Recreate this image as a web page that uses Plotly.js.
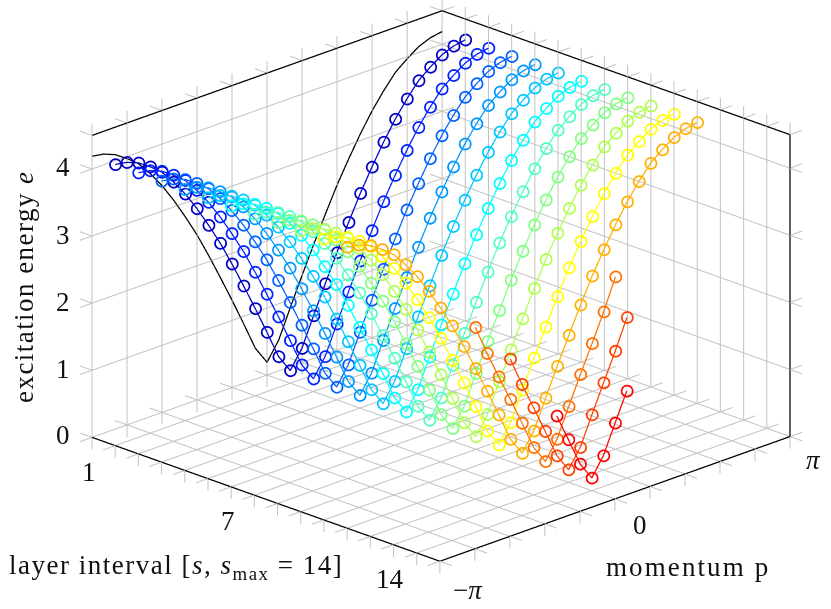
<!DOCTYPE html>
<html><head><meta charset="utf-8">
<script src="https://cdn.plot.ly/plotly-3.0.1.min.js"></script>
<style>html,body{margin:0;padding:0;background:#fff}</style></head>
<body><div id="chart" style="width:831px;height:609px"></div>
<script>
const PI = Math.PI;
// momentum samples: index 0..30 across [-pi, pi]
const momentumSteps = 30;
// excitation energy, layers 1..12 carry the whole band
const fullBand = [4.19,4.16,4.09,3.97,3.83,3.62,3.38,3.10,2.79,2.46,2.09,1.70,1.30,0.885,0.46,0.19,0.46,0.885,1.30,1.70,2.09,2.46,2.79,3.10,3.38,3.62,3.83,3.97,4.09,4.16,4.19];
// truncated bands: first momentum index and values
const band13Start = 9;
const band13 = [2.56,2.11,1.70,1.30,0.885,0.46,0.19,0.46,0.885,1.30,1.70,2.11,2.57];
const band14Start = 10;
const band14 = [2.15,1.71,1.30,0.885,0.46,0.19,0.46,0.885,1.30,1.71,2.15];
const band15Start = 12;
const band15 = [1.30,0.885,0.46,0.19,0.46,0.885,1.30];
const layerColors = ['#0000c8','#0020ff','#0060ff','#0098ff','#00c8ff','#00ffff','#50ffc0','#80ff80','#b0ff50','#ffff00','#ffb000','#ff7000','#ff4000','#ff0000'];
const sTicks = [1,2,3,4,5,6,7,8,9,10,11,12,13,14,15,16];
const pTickSteps = [0,1,2,3,4,5,6,7,8,9,10];
const eTicks = [0,1,2,3,4];
const sMin=1,sMax=16,eMax=4.5;
const tickS=0.52,tickP=0.215,tickE=0.18;
const gridColor='#c2c2c2';

const pOf=i=>-PI+i*2*PI/momentumSteps;
const pTicks=pTickSteps.map(i=>-PI+i*PI/5);

// segment collectors
const gx=[],gy=[],gz=[];
function seg(a,b){gx.push(a[0],b[0],null);gy.push(a[1],b[1],null);gz.push(a[2],b[2],null);}
for(const s of sTicks){
  if(s!==sMax){
    seg([s,-PI,0],[s,PI,0]);
    seg([s,PI,0],[s,PI,eMax]);
  }
  seg([s,PI,eMax],[s,PI,eMax+tickE]);
  seg([s,PI,eMax],[s,PI+tickP,eMax]);
  seg([s,PI,0],[s,PI+tickP,0]);
  seg([s,-PI,0],[s,-PI,-tickE]);
  seg([s,-PI,0],[s,-PI-tickP,0]);
}
pTicks.forEach((p,i)=>{
  if(i>0)seg([sMin,p,0],[sMax,p,0]);
  seg([sMin,p,-tickE],[sMin,p,eMax+tickE]);
  seg([sMin,p,eMax],[sMin-tickS,p,eMax]);
  seg([sMin,p,0],[sMin-tickS,p,0]);
  seg([sMax,p,0],[sMax,p,-tickE]);
  seg([sMax,p,0],[sMax+tickS,p,0]);
});
for(const e of eTicks){
  seg([sMin,-PI-tickP,e],[sMin,PI+tickP,e]);
  seg([sMin-tickS,PI,e],[sMax,PI,e]);
  seg([sMin,-PI,e],[sMin-tickS,-PI,e]);
  seg([sMax,PI,e],[sMax,PI+tickP,e]);
  seg([sMax,PI,e],[sMax+tickS,PI,e]);
}
const traces=[{type:'scatter3d',mode:'lines',x:gx,y:gy,z:gz,connectgaps:false,line:{color:gridColor,width:2},hoverinfo:'skip',showlegend:false}];
// black box edges
traces.push({type:'scatter3d',mode:'lines',connectgaps:false,hoverinfo:'skip',showlegend:false,
  x:[sMin,sMin,null,sMin,sMax,null,sMax,sMax,null,sMin,sMax,null,sMax,sMax],
  y:[-PI,PI,null,PI,PI,null,PI,PI,null,-PI,-PI,null,-PI,PI],
  z:[eMax,eMax,null,eMax,eMax,null,eMax,0,null,0,0,null,0,0],
  line:{color:'#000',width:2.5}});
// layer 1: black line without markers
traces.push({type:'scatter3d',mode:'lines',x:fullBand.map(()=>1),y:fullBand.map((_,i)=>pOf(i)),z:fullBand,line:{color:'#000',width:2.5},hoverinfo:'skip',showlegend:false});
const bands=[];
for(let s=2;s<=12;s++)bands.push({s,start:0,v:fullBand});
bands.push({s:13,start:band13Start,v:band13},{s:14,start:band14Start,v:band14},{s:15,start:band15Start,v:band15});
bands.forEach((b,k)=>{
  traces.push({type:'scatter3d',mode:'lines+markers',
    x:b.v.map(()=>b.s),y:b.v.map((_,i)=>pOf(b.start+i)),z:b.v,
    line:{color:layerColors[k],width:2.5},
    marker:{symbol:'circle-open',size:7,color:layerColors[k],line:{color:layerColors[k],width:1.2}},
    hoverinfo:'skip',showlegend:false});
});
// px per data unit in the scene
const kS=32.8,kP=78.8,kE=71.8,N=304.5;
const sR=[sMin-tickS-0.02,sMax+tickS+0.02],pR=[-PI-tickP-0.01,PI+tickP+0.01],eR=[-tickE-0.01,eMax+tickE+0.01];
const aspect={x:(sR[1]-sR[0])*kS/N,y:(pR[1]-pR[0])*kP/N,z:(eR[1]-eR[0])*kE/N};
const R=3;
const dk=0.539,dn=Math.sqrt(2+dk*dk);
const cx=-(25.5/N)/Math.SQRT2, cz=-18.5/(N*0.9345);
const center={x:cx,y:cx,z:cz};
const eye={x:center.x+R/dn,y:center.y-R/dn,z:center.z+R*dk/dn};
const hidden={visible:false,showgrid:false,zeroline:false,showticklabels:false,showspikes:false,showbackground:false};
const F='"Liberation Serif",serif';
function lab(x,y,t,extra){return Object.assign({xref:'paper',yref:'paper',x:x/831,y:1-y/609,xanchor:'center',yanchor:'middle',showarrow:false,text:t,font:{family:F,size:27,color:'#111'}},extra||{});}
const eTickPos=[[63,167],[63,235],[63,302],[63,369],[63,435]];
const eTickText=['4','3','2','1','0'];
const sTickText=[['1',89,472],['7',228,521],['14',390,579]];
const pTickText=[['\u2212<i>\u03c0</i>',468,590],['0',640,525],['<i>\u03c0</i>',813,460]];
const ann=[];
eTickText.forEach((t,i)=>ann.push(lab(eTickPos[i][0],eTickPos[i][1],t)));
sTickText.forEach(a=>ann.push(lab(a[1],a[2],a[0])));
pTickText.forEach(a=>ann.push(lab(a[1],a[2],a[0])));
ann.push(lab(688,567,'<span style="letter-spacing:2.1px">momentum p</span>'));
ann.push(lab(176,567,'<span style="letter-spacing:1.5px">layer interval [<i>s</i>, <i>s</i><sub>max</sub> = 14]</span>'));
ann.push(lab(24,287,'<span style="letter-spacing:1.45px">excitation energy <i>e</i></span>',{textangle:-90}));
Plotly.newPlot('chart',traces,{
  width:831,height:609,margin:{l:0,r:0,t:0,b:0},paper_bgcolor:'#fff',showlegend:false,hovermode:false,
  scene:{domain:{x:[0,1],y:[0,1]},
    xaxis:Object.assign({range:sR},hidden),yaxis:Object.assign({range:pR},hidden),zaxis:Object.assign({range:eR},hidden),
    aspectmode:'manual',aspectratio:aspect,
    camera:{eye,center,up:{x:0,y:0,z:1},projection:{type:'orthographic'}}},
  annotations:ann
},{displayModeBar:false});
</script></body></html>
